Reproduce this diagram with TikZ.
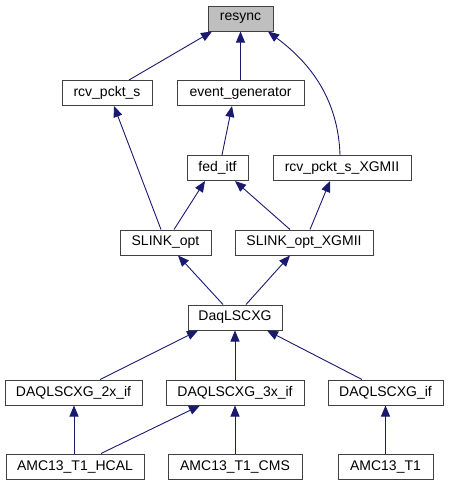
\documentclass[tikz,border=0pt]{standalone}
\usepackage{fontspec}
\setmainfont{Liberation Sans}
\usetikzlibrary{arrows.meta}
\definecolor{edgec}{HTML}{191970}
\definecolor{boxc}{HTML}{404040}
\definecolor{rootfill}{HTML}{BFBFBF}
\begin{document}
\begin{tikzpicture}[x=1pt,y=-1pt,
  cls/.style={draw=boxc,line width=1pt,fill=white,minimum height=25pt,inner sep=0pt,font=\fontsize{14}{16}\selectfont},
  inh/.style={draw=edgec,line width=0.9pt,-{Triangle[length=11pt,width=9pt]}}]
\useasboundingbox (0,0) rectangle (449,485);
\node[cls,fill=rootfill,minimum width=65pt] (resync) at (240.5,18.5) {resync};
\node[cls,minimum width=90pt] (rcv) at (107,93) {rcv\_pckt\_s};
\node[cls,minimum width=127pt] (evg) at (240.5,93) {event\_generator};
\node[cls,minimum width=61pt] (fed) at (217.5,168) {fed\_itf};
\node[cls,minimum width=138pt] (rcvx) at (342,168) {rcv\_pckt\_s\_XGMII};
\node[cls,minimum width=91pt] (slink) at (165.5,242.5) {SLINK\_opt};
\node[cls,minimum width=138pt] (slinkx) at (304,242.5) {SLINK\_opt\_XGMII};
\node[cls,minimum width=94pt] (daq) at (235,317.5) {DaqLSCXG};
\node[cls,minimum width=137pt] (d2x) at (73.5,392.5) {DAQLSCXG\_2x\_if};
\node[cls,minimum width=138pt] (d3x) at (235,392.5) {DAQLSCXG\_3x\_if};
\node[cls,minimum width=115pt] (dif) at (385.5,392.5) {DAQLSCXG\_if};
\node[cls,minimum width=138pt] (hcal) at (75,466.5) {AMC13\_T1\_HCAL};
\node[cls,minimum width=134pt] (cms) at (235,466.5) {AMC13\_T1\_CMS};
\node[cls,minimum width=95pt] (t1) at (385.5,466.5) {AMC13\_T1};
% edges
\draw[inh] ([xshift=22pt]rcv.north) -- ([xshift=-28.5pt]resync.south);
\draw[inh] (evg.north) -- (resync.south);
\draw[inh] ([xshift=-2pt]rcvx.north) .. controls ([xshift=-4pt,yshift=65pt]rcvx.north) and ([xshift=59.5pt,yshift=-24pt]resync.south) .. ([xshift=27.5pt]resync.south);
\draw[inh] ([xshift=4.5pt]fed.north) -- ([xshift=-8.5pt]evg.south);
\draw[inh] ([xshift=-4.5pt]slink.north) -- ([xshift=7pt]rcv.south);
\draw[inh] ([xshift=8.5pt]slink.north) -- ([xshift=-12.5pt]fed.south);
\draw[inh] ([xshift=-14pt]slinkx.north) -- ([xshift=17.5pt]fed.south);
\draw[inh] ([xshift=6pt]slinkx.north) -- ([xshift=-12pt]rcvx.south);
\draw[inh] ([xshift=-12pt]daq.north) -- ([xshift=12.5pt]slink.south);
\draw[inh] ([xshift=11pt]daq.north) -- ([xshift=-14pt]slinkx.south);
\draw[inh] ([xshift=26.5pt]d2x.north) -- ([xshift=-37pt]daq.south);
\draw[inh] (d3x.north) -- (daq.south);
\draw[inh] ([xshift=-23.5pt]dif.north) -- ([xshift=32pt]daq.south);
\draw[inh] ([xshift=-1pt]hcal.north) -- ([xshift=0.5pt]d2x.south);
\draw[inh] ([xshift=26pt]hcal.north) -- ([xshift=-35pt]d3x.south);
\draw[inh] (cms.north) -- (d3x.south);
\draw[inh] (t1.north) -- (dif.south);
\end{tikzpicture}
\end{document}
